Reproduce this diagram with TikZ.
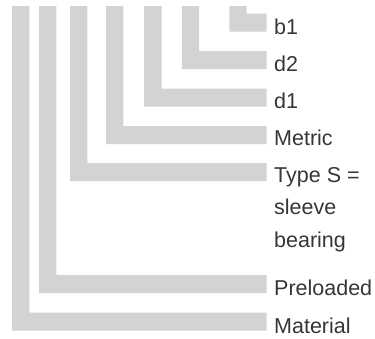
\documentclass[tikz,border=0pt]{standalone}
\usepackage{fontspec}
\setmainfont{Liberation Sans}
\definecolor{barg}{HTML}{D1D3D4}
\definecolor{txtg}{HTML}{363636}
\newcommand\Lbar[2]{\fill[bar] (#1,6) -- ({#1+17.4},6) -- ({#1+17.4},#2) -- (266.7,#2) -- (266.7,{#2+18}) -- (#1,{#2+18}) -- cycle;}
\begin{document}
\begin{tikzpicture}[x=1pt,y=-1pt,
  bar/.style={fill=barg, draw=none},
  lbl/.style={anchor=base west, inner sep=0pt, text=txtg, font=\fontsize{21.5}{32.5}\selectfont, align=left}]
\useasboundingbox (0,0) rectangle (375,338);
\Lbar{229.3}{13.5}
\Lbar{181.8}{51}
\Lbar{144.2}{88.6}
\Lbar{106}{126}
\Lbar{70}{163}
\Lbar{39}{275}
\Lbar{12}{312.7}
\node[lbl] (b1) at (274,34.3) {b1};
\node[lbl] (d2) at (274,71.5) {d2};
\node[lbl] (d1) at (274,108.5) {d1};
\node[lbl] (metric) at (274,145.5) {Metric};
\node[lbl] (types) at (274,247) {Type S =\\sleeve\\bearing};
\node[lbl] (pre) at (274,295.5) {Preloaded};
\node[lbl] (mat) at (274,333) {Material};
\end{tikzpicture}
\end{document}
